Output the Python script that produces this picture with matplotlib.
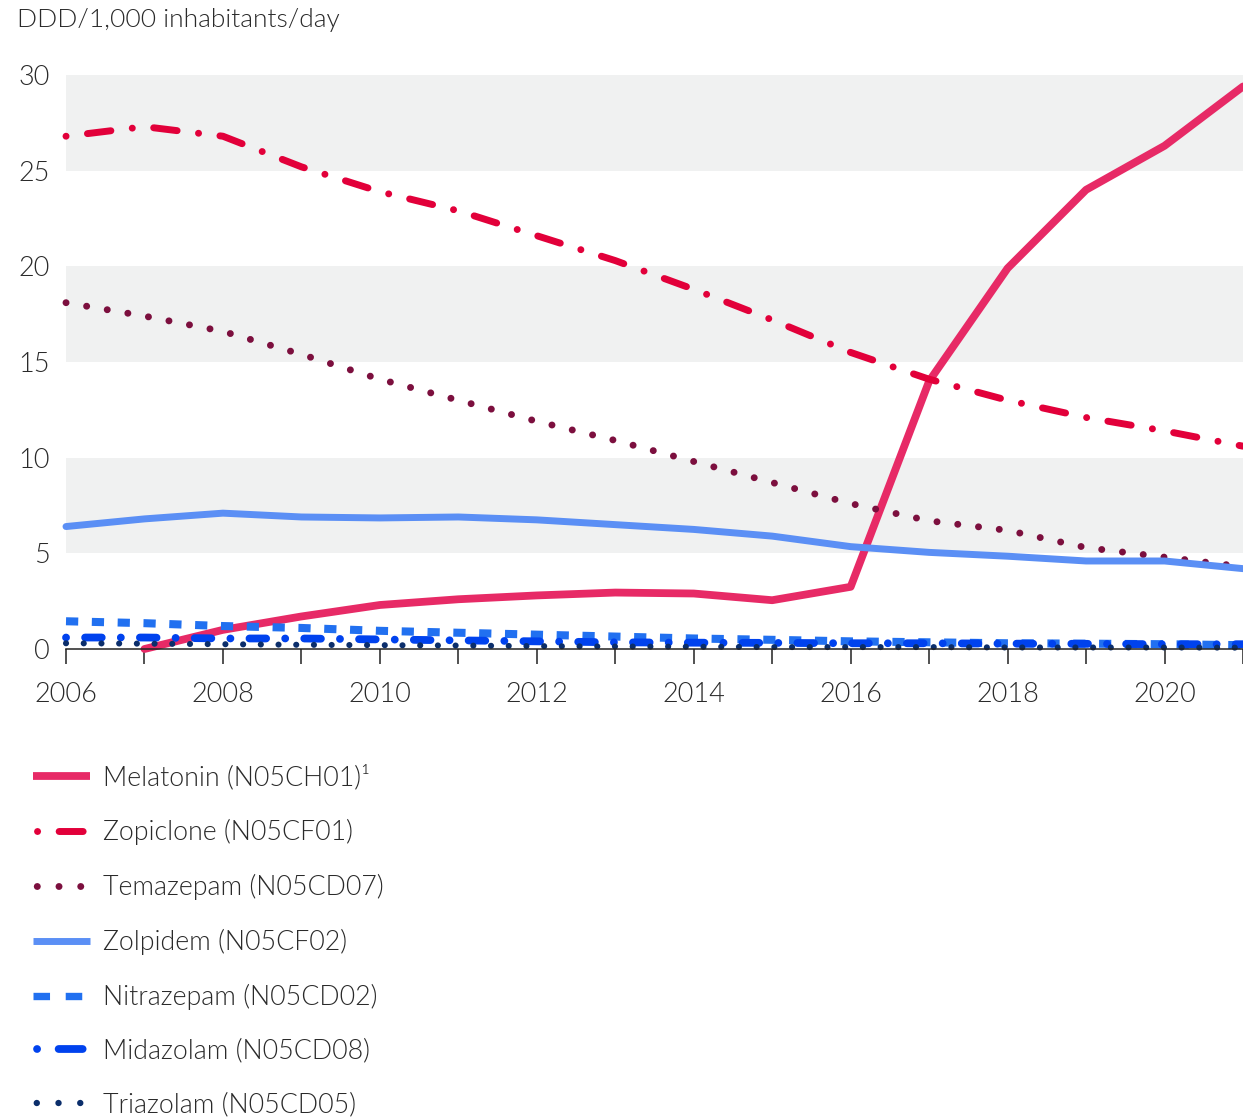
import numpy as np
import matplotlib
matplotlib.use("Agg")
import matplotlib.pyplot as plt
from matplotlib.lines import Line2D

plt.rcParams['font.family'] = ['Lato', 'DejaVu Sans']
plt.rcParams['font.weight'] = 300
plt.rcParams['lines.scale_dashes'] = False

years = list(range(2006, 2022))
melatonin = [np.nan, 0.0, 1.0, 1.7, 2.3, 2.6, 2.8, 2.95, 2.9, 2.55, 3.25, 14.0, 19.9, 24.0, 26.3, 29.4]
zopiclone = [26.8, 27.3, 26.8, 25.2, 23.9, 22.9, 21.6, 20.3, 18.8, 17.2, 15.5, 14.1, 13.0, 12.1, 11.4, 10.6]
temazepam = [18.1, 17.4, 16.6, 15.4, 14.1, 13.0, 11.9, 10.9, 9.8, 8.7, 7.6, 6.7, 6.2, 5.3, 4.8, 4.3]
zolpidem = [6.4, 6.8, 7.1, 6.9, 6.85, 6.9, 6.75, 6.5, 6.25, 5.9, 5.35, 5.05, 4.85, 4.6, 4.6, 4.2]
nitrazepam = [1.45, 1.35, 1.2, 1.1, 0.95, 0.85, 0.75, 0.65, 0.55, 0.48, 0.4, 0.35, 0.3, 0.28, 0.25, 0.2]
midazolam = [0.6, 0.6, 0.55, 0.55, 0.5, 0.45, 0.4, 0.35, 0.33, 0.32, 0.3, 0.3, 0.28, 0.27, 0.25, 0.25]
triazolam = [0.3, 0.28, 0.25, 0.22, 0.2, 0.18, 0.15, 0.13, 0.12, 0.1, 0.1, 0.1, 0.08, 0.08, 0.08, 0.07]

labels = ["Melatonin (N05CH01)\u00b9", "Zopiclone (N05CF01)", "Temazepam (N05CD07)",
          "Zolpidem (N05CF02)", "Nitrazepam (N05CD02)", "Midazolam (N05CD08)",
          "Triazolam (N05CD05)"]
series = [melatonin, zopiclone, temazepam, zolpidem, nitrazepam, midazolam, triazolam]
colors = ['#E72A66', '#E2003A', '#7C0F3E', '#5B8FF5', '#2170F0', '#0042EE', '#0B2E6B']
widths = [5.6, 5.0, 5.0, 5.0, 5.8, 5.6, 4.4]
dashes = [None, (0.05, 15.5, 17, 15.5), (0.05, 15), None, (8.8, 9.8), (0.05, 13.7, 12, 13.7), (0.05, 12.7)]
caps = ['round', 'round', 'round', 'round', 'butt', 'round', 'round']

# legend-handle styles (offset, pattern) in points
dotdash_leg = (59.95, (0.05, 15.5, 17.3, 30))
dots_leg = (12.95, (0.05, 15.6))
leg_styles = ['-', dotdash_leg, dots_leg, '-', (0, (11.9, 11.3)), dotdash_leg, dots_leg]
leg_widths = [5.6, 5.0, 5.0, 5.0, 5.3, 5.6, 4.6]

W, H = 1243, 1120
fig = plt.figure(figsize=(W / 100, H / 100), dpi=100)
ax = fig.add_axes([66 / W, (H - 649) / H, 1177 / W, 574 / H])

for lo, hi in [(5, 10), (15, 20), (25, 30)]:
    ax.axhspan(lo, hi, color='#F0F1F1', zorder=0, lw=0)

for vals, lab, c, lw, d, cap in zip(series, labels, colors, widths, dashes, caps):
    kw = dict(color=c, lw=lw, solid_capstyle=cap, dash_capstyle=cap, label=lab, clip_on=False)
    if d is None:
        ax.plot(years, vals, linestyle='-', **kw)
    else:
        ax.plot(years, vals, linestyle=(0, d), **kw)

handles = []
for lab, c, lw, st in zip(labels, colors, leg_widths, leg_styles):
    cap = 'butt' if st == '-' or lab.startswith('Nitra') else 'round'
    handles.append(Line2D([], [], color=c, lw=lw, linestyle=st,
                          solid_capstyle='butt', dash_capstyle=cap, label=lab))

ax.set_xlim(2006, 2020.92)
ax.set_ylim(0, 30)
for s in ['top', 'right', 'left']:
    ax.spines[s].set_visible(False)
ax.spines['bottom'].set_color('#222222')
ax.spines['bottom'].set_linewidth(1.1)

ax.set_xticks(years)
ax.set_xticklabels([str(y) if y % 2 == 0 else '' for y in years])
ax.tick_params(axis='x', length=10.8, width=1.1, color='#222222', pad=13,
               labelsize=19.5, labelcolor='#2a2a2a')
ax.set_yticks([0, 5, 10, 15, 20, 25, 30])
ax.tick_params(axis='y', length=0, pad=11.5, labelsize=19.5, labelcolor='#2a2a2a')
for t in ax.get_xticklabels() + ax.get_yticklabels():
    t.set_fontweight(300)

fig.text(17 / W, 1 - 20 / H, "DDD/1,000 inhabitants/day", ha='left', va='center',
         fontsize=19, color='#2a2a2a', fontweight=300)

leg = fig.legend(handles=handles, loc='upper left', bbox_to_anchor=(33 / W, 1 - 765 / H),
                 frameon=False, fontsize=19.3, handlelength=2.12, handletextpad=0.48,
                 labelspacing=1.07, borderaxespad=0, borderpad=0)
for t in leg.get_texts():
    t.set_color('#2a2a2a')
    t.set_fontweight(300)

fig.savefig('out.png', dpi=100)
